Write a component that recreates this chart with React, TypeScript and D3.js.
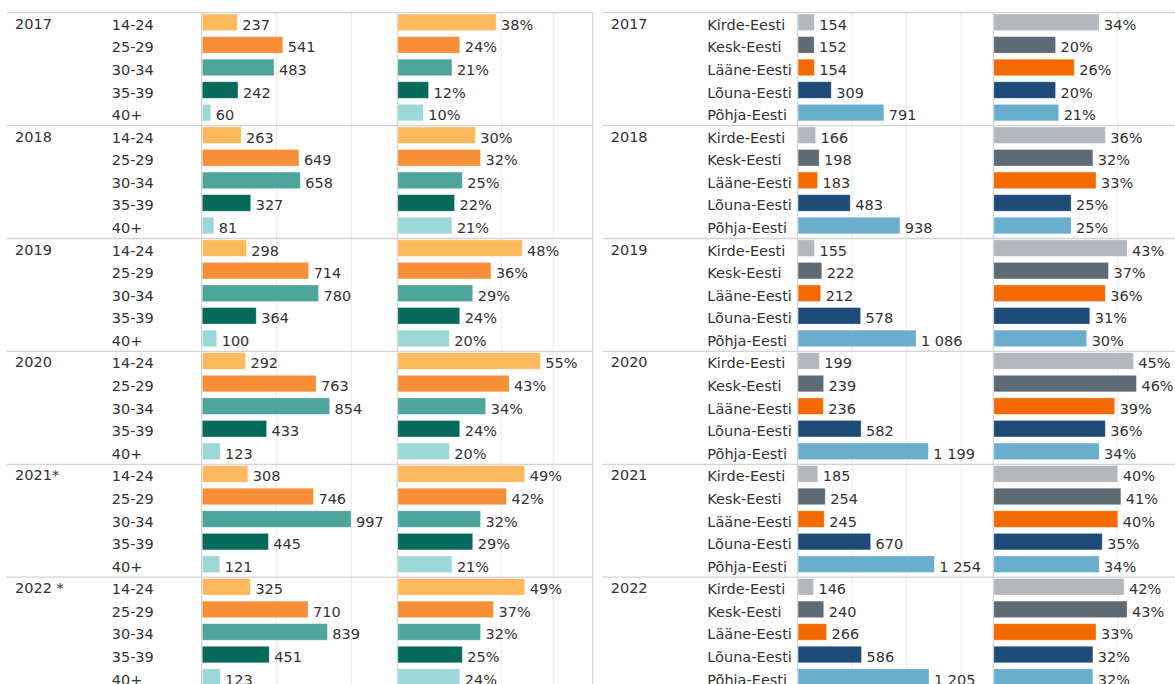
import React from "react";
import * as d3 from "d3";

const years = ["2017", "2018", "2019", "2020", "2021", "2022"];
const leftYearLabels = ["2017", "2018", "2019", "2020", "2021*", "2022 *"];
const rightYearLabels = ["2017", "2018", "2019", "2020", "2021", "2022"];

const ageGroups = ["14-24", "25-29", "30-34", "35-39", "40+"];
const ageCounts = [
  [237, 541, 483, 242, 60],
  [263, 649, 658, 327, 81],
  [298, 714, 780, 364, 100],
  [292, 763, 854, 433, 123],
  [308, 746, 997, 445, 121],
  [325, 710, 839, 451, 123],
];
const agePcts = [
  [38, 24, 21, 12, 10],
  [30, 32, 25, 22, 21],
  [48, 36, 29, 24, 20],
  [55, 43, 34, 24, 20],
  [49, 42, 32, 29, 21],
  [49, 37, 32, 25, 24],
];

const regions = ["Kirde-Eesti", "Kesk-Eesti", "Lääne-Eesti", "Lõuna-Eesti", "Põhja-Eesti"];
const regionCounts = [
  [154, 152, 154, 309, 791],
  [166, 198, 183, 483, 938],
  [155, 222, 212, 578, 1086],
  [199, 239, 236, 582, 1199],
  [185, 254, 245, 670, 1254],
  [146, 240, 266, 586, 1205],
];
const regionPcts = [
  [34, 20, 26, 20, 21],
  [36, 32, 33, 25, 25],
  [43, 37, 36, 31, 30],
  [45, 46, 39, 36, 34],
  [40, 41, 40, 35, 34],
  [42, 43, 33, 32, 32],
];

const ageColors = ["#FDB95E", "#F68F38", "#4DA59B", "#05695C", "#9DD7D8"];
const regionColors = ["#B2B8BE", "#5E6A74", "#F56A00", "#1E4B78", "#6AAECE"];

const countTicksLeft = [500, 1000];
const pctTicksLeft = [40, 60];
const countTicksRight = [500, 1000, 1500];
const pctTicksRight = [40, 60];

const locale = d3.formatLocale({
  decimal: ",",
  thousands: "\u00A0",
  grouping: [3],
  currency: ["", ""],
});
const fmtCount = locale.format(",d");
const fmtPct = (v: number) => `${v}%`;

const W = 1175;
const H = 684;
const FONT = "'DejaVu Sans', sans-serif";
const TEXT = "#333333";
const LINE = "#d4d4d4";
const GRID = "#ebebeb";

const groupTop = 12.7;
const groupH = 112.9;

const yGroup = d3
  .scaleBand<string>()
  .domain(years)
  .range([groupTop, groupTop + groupH * years.length])
  .padding(0);

interface PanelProps {
  x0: number;
  x1: number;
  yearX: number;
  labelX: number;
  countRange: [number, number];
  countMax: number;
  pctRange: [number, number];
  pctMax: number;
  yearLabels: string[];
  cats: string[];
  counts: number[][];
  pcts: number[][];
  colors: string[];
  countTicks: number[];
  pctTicks: number[];
  rightBorder: boolean;
}

function Panel(p: PanelProps) {
  const xc = d3.scaleLinear().domain([0, p.countMax]).range(p.countRange);
  const xp = d3.scaleLinear().domain([0, p.pctMax]).range(p.pctRange);
  const yRow = d3
    .scaleBand<number>()
    .domain(d3.range(p.cats.length))
    .range([-1.7, groupH - 1.7])
    .paddingInner(0.27)
    .paddingOuter(0.135);
  const bw = yRow.bandwidth();
  const bottom = H + 10;

  return (
    <g>
      {/* gridlines */}
      {p.countTicks.map((t) => (
        <line key={"cg" + t} x1={xc(t)} x2={xc(t)} y1={groupTop} y2={bottom} stroke={GRID} strokeWidth={1} />
      ))}
      {p.pctTicks.map((t) => (
        <line key={"pg" + t} x1={xp(t)} x2={xp(t)} y1={groupTop} y2={bottom} stroke={GRID} strokeWidth={1} />
      ))}
      {/* horizontal group separators */}
      {years.map((yr) => (
        <line
          key={"h" + yr}
          x1={p.x0}
          x2={p.x1}
          y1={yGroup(yr)!}
          y2={yGroup(yr)!}
          stroke={LINE}
          strokeWidth={1.3}
        />
      ))}
      {/* pane lines */}
      <line x1={xc(0)} x2={xc(0)} y1={groupTop} y2={bottom} stroke={LINE} strokeWidth={1.2} />
      <line x1={xp(0)} x2={xp(0)} y1={groupTop} y2={bottom} stroke={LINE} strokeWidth={1.2} />
      {p.rightBorder && (
        <line x1={p.x1} x2={p.x1} y1={groupTop} y2={bottom} stroke={LINE} strokeWidth={1.2} />
      )}
      {years.map((yr, gi) => {
        const gy = yGroup(yr)!;
        return (
          <g key={"g" + yr}>
            <text x={p.yearX} y={gy + yRow(0)! + bw / 2 + 6.5} fontSize={14.5} fill={TEXT} fontFamily={FONT}>
              {p.yearLabels[gi]}
            </text>
            {p.cats.map((c, ci) => {
              const by = gy + yRow(ci)!;
              const cy = by + bw / 2;
              const cv = p.counts[gi][ci];
              const pv = p.pcts[gi][ci];
              return (
                <g key={c}>
                  <text x={p.labelX} y={cy + 7.5} fontSize={14.5} fill={TEXT} fontFamily={FONT}>
                    {c}
                  </text>
                  <rect
                    x={xc(0) + 0.6}
                    y={by}
                    width={xc(cv) - xc(0) - 0.6}
                    height={bw}
                    fill={p.colors[ci]}
                    stroke="#ffffff"
                    strokeOpacity={0.35}
                    strokeWidth={0.8}
                  />
                  <text x={xc(cv) + 5} y={cy + 7.5} fontSize={14.5} fill={TEXT} fontFamily={FONT}>
                    {fmtCount(cv)}
                  </text>
                  <rect
                    x={xp(0) + 0.6}
                    y={by}
                    width={xp(pv) - xp(0) - 0.6}
                    height={bw}
                    fill={p.colors[ci]}
                    stroke="#ffffff"
                    strokeOpacity={0.35}
                    strokeWidth={0.8}
                  />
                  <text x={xp(pv) + 5} y={cy + 7.5} fontSize={14.5} fill={TEXT} fontFamily={FONT}>
                    {fmtPct(pv)}
                  </text>
                </g>
              );
            })}
          </g>
        );
      })}
    </g>
  );
}

export default function App() {
  return (
    <svg
      width={W}
      height={H}
      viewBox={`0 0 ${W} ${H}`}
      style={{ position: "absolute", left: 0, top: 0, background: "#ffffff" }}
    >
      <rect x={0} y={0} width={W} height={H} fill="#ffffff" />
      <Panel
        x0={6.7}
        x1={592.7}
        yearX={15}
        labelX={111.7}
        countRange={[201.7, 397.3]}
        countMax={1306}
        pctRange={[397.3, 592.3]}
        pctMax={75}
        yearLabels={leftYearLabels}
        cats={ageGroups}
        counts={ageCounts}
        pcts={agePcts}
        colors={ageColors}
        countTicks={countTicksLeft}
        pctTicks={pctTicksLeft}
        rightBorder={true}
      />
      <Panel
        x0={602.7}
        x1={1180}
        yearX={610.7}
        labelX={707.3}
        countRange={[797.5, 993.3]}
        countMax={1794}
        pctRange={[993.3, 1189]}
        pctMax={62.9}
        yearLabels={rightYearLabels}
        cats={regions}
        counts={regionCounts}
        pcts={regionPcts}
        colors={regionColors}
        countTicks={countTicksRight}
        pctTicks={pctTicksRight}
        rightBorder={false}
      />
    </svg>
  );
}
